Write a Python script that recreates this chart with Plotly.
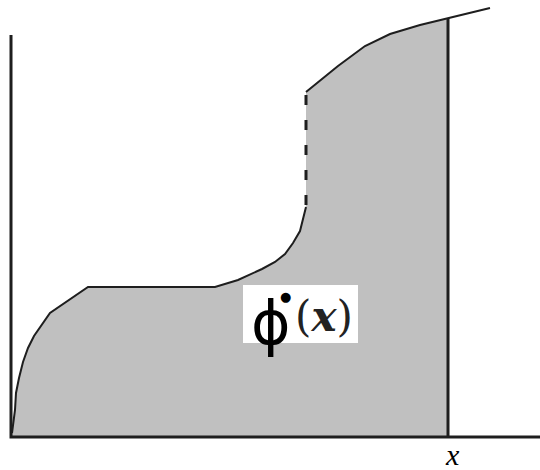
import plotly.graph_objects as go

# Curve of phi*(x): horizontal position vs height above the x axis
lower_x = [1, 4, 5, 8, 12, 17, 23, 31, 39, 77, 204, 227, 251, 264, 274, 282, 289, 295]
lower_y = [4, 27, 44, 59, 75, 89, 101, 112, 124, 150, 150, 157, 168, 175, 183, 194, 206, 230]

# Jump of the function (drawn dashed)
jump_x = [295, 295]
jump_y = [232, 345]

upper_x = [295, 307, 327, 354, 379, 409, 437, 459, 479]
upper_y = [345, 355, 371, 391, 403, 412, 419, 424, 429]

# Point x where the area under the curve ends
x_mark = 437
axis_top = 402
axis_right = 529

fill_x = [0] + lower_x + jump_x + upper_x[1:7] + [x_mark, 0]
fill_y = [0] + lower_y + jump_y + upper_y[1:7] + [0, 0]

ink = "#1e1e1e"
fig = go.Figure()

# shaded area
fig.add_trace(go.Scatter(x=fill_x, y=fill_y, fill="toself", fillcolor="#c0c0c0",
                         mode="none", hoverinfo="skip"))
# curve pieces
fig.add_trace(go.Scatter(x=lower_x, y=lower_y, mode="lines",
                         line=dict(color=ink, width=2)))
fig.add_trace(go.Scatter(x=jump_x, y=jump_y, mode="lines",
                         line=dict(color=ink, width=3, dash="10px,15px")))
fig.add_trace(go.Scatter(x=upper_x, y=upper_y, mode="lines",
                         line=dict(color=ink, width=2)))
# vertical line at x
fig.add_trace(go.Scatter(x=[x_mark, x_mark], y=[0, upper_y[6]], mode="lines",
                         line=dict(color=ink, width=3)))
# axes
fig.add_trace(go.Scatter(x=[0, 0, axis_right], y=[axis_top, 0, 0], mode="lines",
                         line=dict(color=ink, width=3)))

# label box
fig.add_shape(type="rect", x0=232, x1=347, y0=94, y1=152,
              fillcolor="white", line=dict(width=0), layer="above")

fig.add_annotation(x=259.5, y=114, text="ϕ", showarrow=False,
                   font=dict(family="DejaVu Sans", size=60, color="black"))
fig.add_annotation(x=274, y=141, text="●", showarrow=False,
                   font=dict(family="DejaVu Sans", size=13, color="black"))
fig.add_annotation(x=313, y=121, text="(<b><i>x</i></b>)", showarrow=False,
                   font=dict(family="DejaVu Serif", size=42, color="#222"))

fig.add_annotation(x=441, y=-17, text="<i>x</i>", showarrow=False,
                   height=28, valign="middle",
                   font=dict(family="Liberation Serif", size=30, color="black"))

fig.update_layout(
    width=540, height=470,
    margin=dict(l=0, r=0, t=0, b=0),
    paper_bgcolor="white", plot_bgcolor="white",
    showlegend=False,
    xaxis=dict(range=[-11, 529], visible=False, fixedrange=True),
    yaxis=dict(range=[-33, 437], visible=False, fixedrange=True),
)

fig.write_html("out.html")
